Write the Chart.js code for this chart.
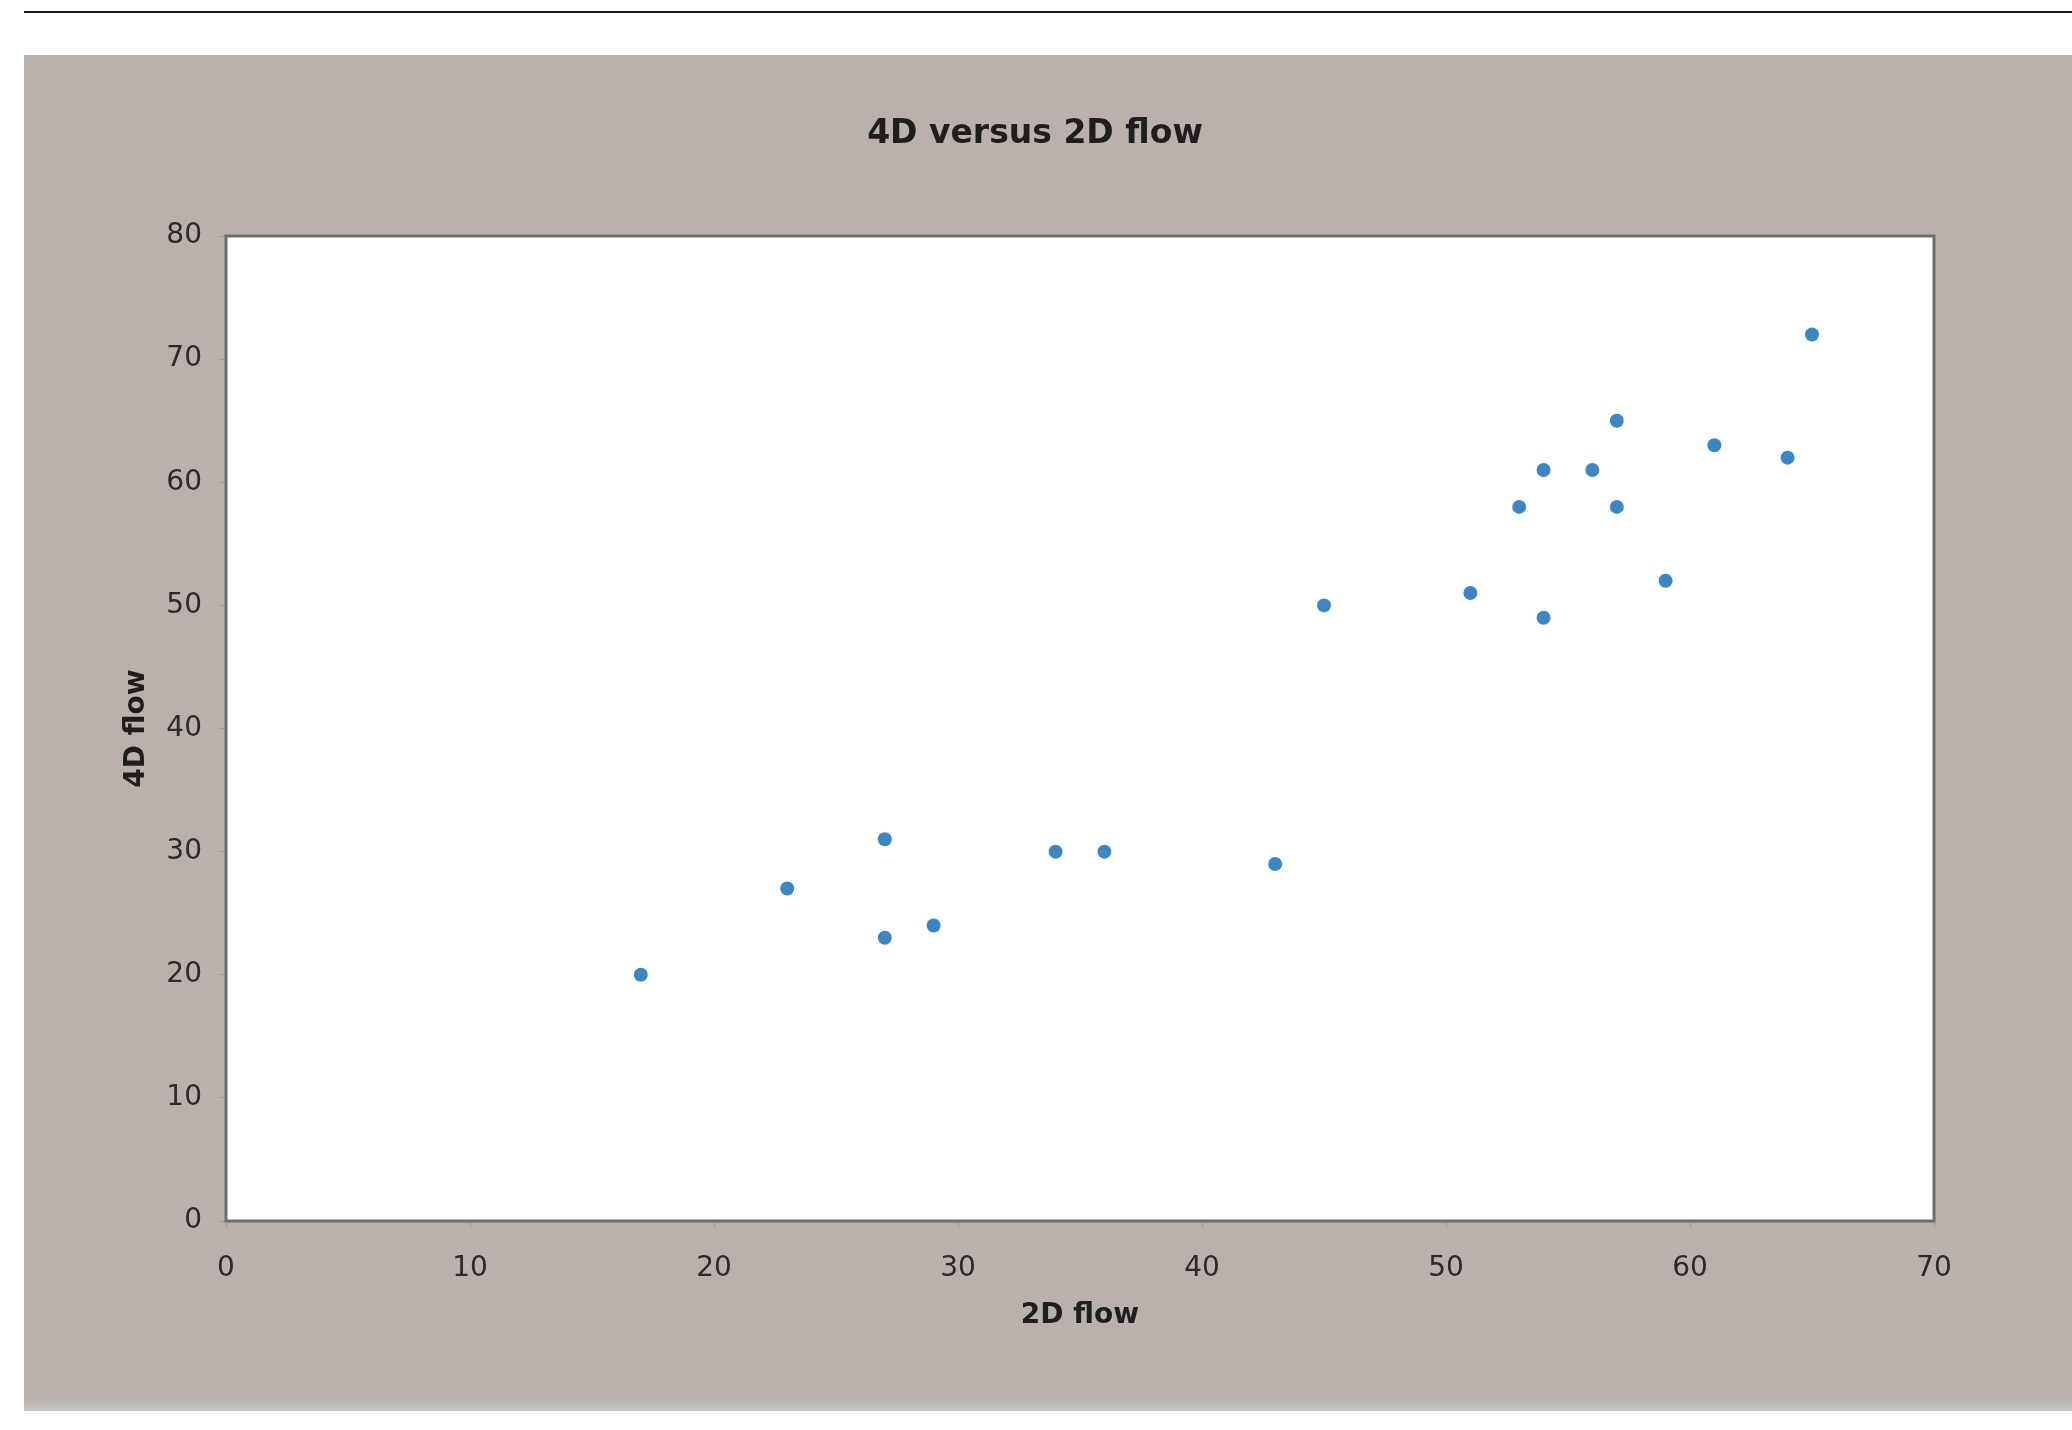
<!DOCTYPE html>
<html>
<head>
<meta charset="utf-8">
<script src="https://cdn.jsdelivr.net/npm/chart.js@4/dist/chart.umd.min.js"></script>
<style>
  html, body { margin: 0; padding: 0; background: #ffffff; }
  #wrap { width: 2072px; height: 1430px; position: relative; }
  canvas { display: block; }
</style>
</head>
<body>
<div id="wrap"><canvas id="c" width="2072" height="1430"></canvas></div>
<script>
const chartTitle = "4D versus 2D flow";
const xAxisTitle = "2D flow";
const yAxisTitle = "4D flow";
const flow2D = [17, 23, 27, 27, 29, 34, 36, 43, 45, 51, 53, 54, 54, 56, 57, 57, 59, 61, 64, 65];
const flow4D = [20, 27, 31, 23, 24, 30, 30, 29, 50, 51, 58, 61, 49, 61, 65, 58, 52, 63, 62, 72];
const xTicks = [0, 10, 20, 30, 40, 50, 60, 70];
const yTicks = [0, 10, 20, 30, 40, 50, 60, 70, 80];

const points = flow2D.map((x, i) => ({ x: x, y: flow4D[i] }));

const pagePlugin = {
  id: 'page',
  beforeDraw(chart) {
    const ctx = chart.ctx;
    ctx.save();
    ctx.fillStyle = '#ffffff';
    ctx.fillRect(0, 0, chart.width, chart.height);
    // top rule
    ctx.fillStyle = '#1a1a1a';
    ctx.fillRect(24, 11, chart.width - 24, 2);
    // gray panel
    ctx.fillStyle = '#bab0ac';
    ctx.fillRect(24, 55, chart.width - 24, 1356);
    const g = ctx.createLinearGradient(0, 1392, 0, 1411);
    g.addColorStop(0, 'rgba(186,176,172,0)');
    g.addColorStop(1, 'rgba(200,200,196,1)');
    ctx.fillStyle = g;
    ctx.fillRect(24, 1392, chart.width - 24, 19);
    // plot area
    const a = chart.chartArea;
    ctx.fillStyle = '#ffffff';
    ctx.fillRect(a.left, a.top, a.right - a.left, a.bottom - a.top);
    // title
    ctx.fillStyle = '#1e1e1e';
    ctx.font = 'bold 33px "DejaVu Sans", Verdana, sans-serif';
    ctx.textAlign = 'center';
    ctx.textBaseline = 'middle';
    ctx.fillText(chartTitle, 1035, 134);
    ctx.restore();
  },
  beforeDatasetsDraw(chart) {
    const ctx = chart.ctx;
    const a = chart.chartArea;
    ctx.save();
    ctx.strokeStyle = '#6e6e6e';
    ctx.lineWidth = 3;
    ctx.strokeRect(a.left, a.top, a.right - a.left, a.bottom - a.top);
    ctx.restore();
  }
};

const tickFont = { family: '"DejaVu Sans", Verdana, sans-serif', size: 28 };
const axisTitleFont = { family: '"DejaVu Sans", Verdana, sans-serif', size: 28, weight: 'bold' };

new Chart(document.getElementById('c'), {
  type: 'scatter',
  data: {
    datasets: [{
      label: yAxisTitle,
      data: points,
      backgroundColor: '#3d86c6',
      borderWidth: 0,
      pointRadius: 7,
      pointHoverRadius: 7
    }]
  },
  options: {
    responsive: false,
    animation: false,
    devicePixelRatio: 1,
    layout: { padding: { left: 66, right: 138, top: 236, bottom: 68 } },
    plugins: {
      legend: { display: false },
      title: { display: false },
      tooltip: { enabled: false }
    },
    scales: {
      x: {
        type: 'linear',
        min: 0, max: 70,
        afterBuildTicks(scale) { scale.ticks = xTicks.map(v => ({ value: v })); },
        afterFit(scale) { scale.height = 141; },
        grid: { drawOnChartArea: false, tickLength: 7, color: '#9a9a9a', lineWidth: 1 },
        border: { display: false },
        ticks: { color: '#2a2a2a', padding: 24, font: tickFont },
        title: {
          display: true, text: xAxisTitle, color: '#1e1e1e',
          font: axisTitleFont,
          padding: { top: 0, bottom: 29 }
        }
      },
      y: {
        type: 'linear',
        min: 0, max: 80,
        afterBuildTicks(scale) { scale.ticks = yTicks.map(v => ({ value: v })); },
        afterFit(scale) { scale.width = 160; },
        grid: { drawOnChartArea: false, tickLength: 7, color: '#9a9a9a', lineWidth: 1 },
        border: { display: false },
        ticks: { color: '#2a2a2a', padding: 17, font: tickFont },
        title: {
          display: true, text: yAxisTitle, color: '#1e1e1e',
          font: axisTitleFont,
          padding: { top: 54, bottom: 0 }
        }
      }
    }
  },
  plugins: [pagePlugin]
});
</script>
</body>
</html>
